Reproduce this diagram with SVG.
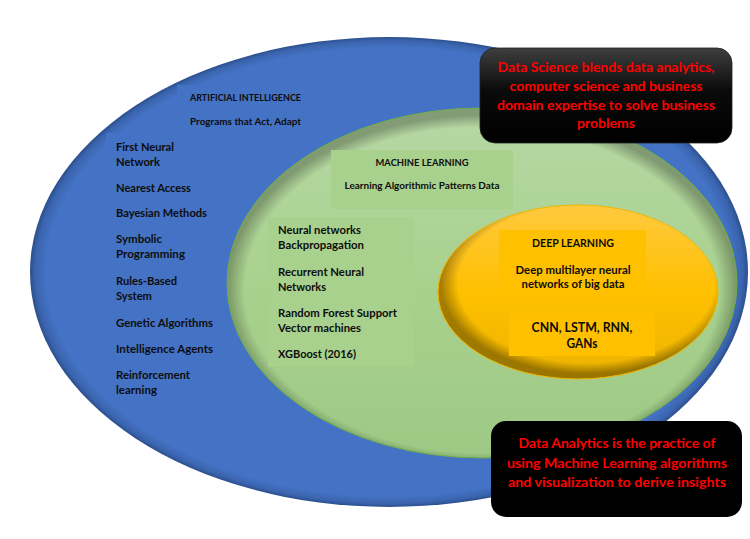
<svg xmlns="http://www.w3.org/2000/svg" width="750" height="539" viewBox="0 0 750 539">
<defs>
<radialGradient id="blueG" cx="0.5" cy="0.5" r="0.5">
<stop offset="0" stop-color="#4472C4"/>
<stop offset="0.955" stop-color="#4472C4"/>
<stop offset="0.985" stop-color="#3A64AE"/>
<stop offset="1" stop-color="#2C4F8C"/>
</radialGradient>
<linearGradient id="greenG" x1="0" y1="0" x2="0" y2="1">
<stop offset="0" stop-color="#B6D8A5"/>
<stop offset="0.5" stop-color="#A9D18E"/>
<stop offset="1" stop-color="#9DC985"/>
</linearGradient>
<radialGradient id="greenRim" cx="0.5" cy="0.52" r="0.5">
<stop offset="0.93" stop-color="#000" stop-opacity="0"/>
<stop offset="1" stop-color="#000" stop-opacity="0.28"/>
</radialGradient>
<linearGradient id="yellowG" x1="0" y1="0" x2="0" y2="1">
<stop offset="0" stop-color="#FFC93F"/>
<stop offset="0.5" stop-color="#FFC000"/>
<stop offset="1" stop-color="#EBB300"/>
</linearGradient>
<radialGradient id="yellowRim" cx="0.53" cy="0.45" r="0.52">
<stop offset="0.88" stop-color="#000" stop-opacity="0"/>
<stop offset="1" stop-color="#000" stop-opacity="0.35"/>
</radialGradient>
<linearGradient id="blackG" x1="0" y1="0" x2="0" y2="1">
<stop offset="0" stop-color="#3F3F3F"/>
<stop offset="0.45" stop-color="#0A0A0A"/>
<stop offset="1" stop-color="#000"/>
</linearGradient>
</defs>
<style>
text{font-family:Lato,"Liberation Sans",Arial,sans-serif;font-weight:bold;fill:#0D0D0D}
.s9{font-size:9.5px}
.s10{font-size:10.5px}
.s11{font-size:11.5px}
.s12{font-size:12.5px}
.red{font-size:13.5px;fill:#FF0000}
.mid{text-anchor:middle}
</style>
<rect width="750" height="539" fill="#FFFFFF"/>

<g id="ai">
<ellipse cx="389" cy="272" rx="359" ry="235" fill="url(#blueG)"/>
<rect x="177" y="85" width="140" height="50" fill="#4472C4"/>
<rect x="106" y="133" width="120" height="270" fill="#4472C4"/>
<text class="s9" x="190" y="101" textLength="111" lengthAdjust="spacingAndGlyphs">ARTIFICIAL INTELLIGENCE</text>
<text class="s9" x="190" y="125" textLength="111" lengthAdjust="spacingAndGlyphs">Programs that Act, Adapt</text>
<text class="s11" x="116" y="151" textLength="58" lengthAdjust="spacingAndGlyphs">First Neural</text>
<text class="s11" x="116" y="166" textLength="44" lengthAdjust="spacingAndGlyphs">Network</text>
<text class="s11" x="116" y="192" textLength="75" lengthAdjust="spacingAndGlyphs">Nearest Access</text>
<text class="s11" x="116" y="217" textLength="91" lengthAdjust="spacingAndGlyphs">Bayesian Methods</text>
<text class="s11" x="116" y="243" textLength="46" lengthAdjust="spacingAndGlyphs">Symbolic</text>
<text class="s11" x="116" y="258" textLength="69" lengthAdjust="spacingAndGlyphs">Programming</text>
<text class="s11" x="116" y="285" textLength="61" lengthAdjust="spacingAndGlyphs">Rules-Based</text>
<text class="s11" x="116" y="300" textLength="36" lengthAdjust="spacingAndGlyphs">System</text>
<text class="s11" x="116" y="327" textLength="97" lengthAdjust="spacingAndGlyphs">Genetic Algorithms</text>
<text class="s11" x="116" y="353" textLength="97" lengthAdjust="spacingAndGlyphs">Intelligence Agents</text>
<text class="s11" x="116" y="379" textLength="74" lengthAdjust="spacingAndGlyphs">Reinforcement</text>
<text class="s11" x="116" y="394" textLength="41" lengthAdjust="spacingAndGlyphs">learning</text>
</g>

<g id="ml">
<ellipse cx="482" cy="283" rx="255" ry="175" fill="url(#greenG)"/>
<ellipse cx="482" cy="283" rx="255" ry="175" fill="url(#greenRim)" stroke="#70AD47" stroke-width="1"/>
<rect x="331" y="150" width="182" height="59" fill="#A9D18E"/>
<rect x="268" y="217" width="146" height="150" fill="#A9D18E"/>
<text class="s9 mid" x="422" y="166" textLength="93" lengthAdjust="spacingAndGlyphs">MACHINE LEARNING</text>
<text class="s9 mid" x="422" y="189" textLength="155" lengthAdjust="spacingAndGlyphs">Learning Algorithmic Patterns Data</text>
<text class="s11" x="278" y="234" textLength="83" lengthAdjust="spacingAndGlyphs">Neural networks</text>
<text class="s11" x="278" y="249" textLength="86" lengthAdjust="spacingAndGlyphs">Backpropagation</text>
<text class="s11" x="278" y="276" textLength="86" lengthAdjust="spacingAndGlyphs">Recurrent Neural</text>
<text class="s11" x="278" y="291" textLength="48" lengthAdjust="spacingAndGlyphs">Networks</text>
<text class="s11" x="278" y="317" textLength="119" lengthAdjust="spacingAndGlyphs">Random Forest Support</text>
<text class="s11" x="278" y="332" textLength="83" lengthAdjust="spacingAndGlyphs">Vector machines</text>
<text class="s11" x="278" y="358" textLength="78" lengthAdjust="spacingAndGlyphs">XGBoost (2016)</text>
</g>

<g id="dl">
<ellipse cx="578" cy="292" rx="140" ry="87" fill="url(#yellowG)"/>
<ellipse cx="578" cy="292" rx="140" ry="87" fill="url(#yellowRim)" stroke="#F2B600" stroke-width="1"/>
<rect x="499" y="230" width="147" height="67" fill="#FFC000"/>
<rect x="509" y="313" width="146" height="43" fill="#FFC000"/>
<text class="s10 mid" x="573" y="247" textLength="82" lengthAdjust="spacingAndGlyphs">DEEP LEARNING</text>
<text class="s10 mid" x="573" y="274" textLength="115" lengthAdjust="spacingAndGlyphs">Deep multilayer neural</text>
<text class="s10 mid" x="573" y="288" textLength="103" lengthAdjust="spacingAndGlyphs">networks of big data</text>
<text class="s12 mid" x="582" y="332" textLength="101" lengthAdjust="spacingAndGlyphs">CNN, LSTM, RNN,</text>
<text class="s12 mid" x="582" y="348" textLength="31" lengthAdjust="spacingAndGlyphs">GANs</text>
</g>

<g id="ds">
<rect x="480" y="48" width="252" height="95" rx="15" ry="15" fill="url(#blackG)" stroke="#222" stroke-width="0.8"/>
<text class="red mid" x="606" y="72" textLength="217" lengthAdjust="spacingAndGlyphs">Data Science blends data analytics,</text>
<text class="red mid" x="606" y="91" textLength="193" lengthAdjust="spacingAndGlyphs">computer science and business</text>
<text class="red mid" x="606" y="110" textLength="218" lengthAdjust="spacingAndGlyphs">domain expertise to solve business</text>
<text class="red mid" x="606" y="128" textLength="58" lengthAdjust="spacingAndGlyphs">problems</text>
</g>

<g id="da">
<rect x="491" y="421" width="251" height="96" rx="15" ry="15" fill="#000000"/>
<text class="red mid" x="617" y="448" textLength="197" lengthAdjust="spacingAndGlyphs">Data Analytics is the practice of</text>
<text class="red mid" x="617" y="468" textLength="220" lengthAdjust="spacingAndGlyphs">using Machine Learning algorithms</text>
<text class="red mid" x="617" y="487" textLength="218" lengthAdjust="spacingAndGlyphs">and visualization to derive insights</text>
</g>

<g id="connectors"/>
</svg>
